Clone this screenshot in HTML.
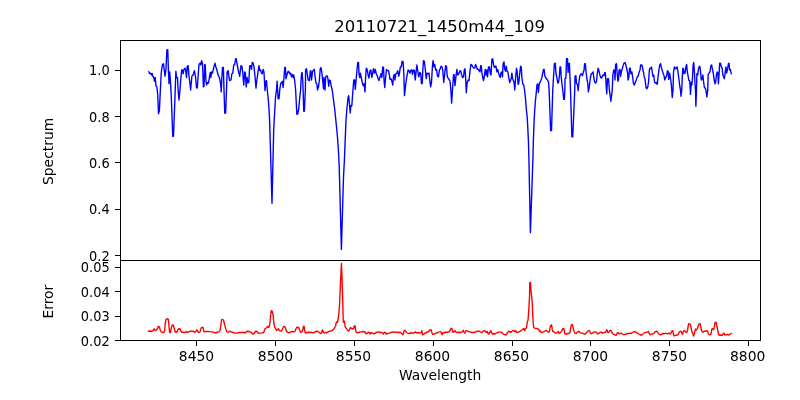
<!DOCTYPE html>
<html><head><meta charset="utf-8"><title>20110721_1450m44_109</title>
<style>html,body{margin:0;padding:0;background:#fff;overflow:hidden;width:800px;height:400px;}svg{display:block;will-change:transform;}text{font-family:"DejaVu Sans","Liberation Sans",sans-serif;fill:#000;}</style></head><body>
<svg width="800" height="400" viewBox="0 0 800 400">
<rect x="0" y="0" width="800" height="400" fill="#fff"/>
<clipPath id="c1"><rect x="120" y="40" width="641" height="221"/></clipPath>
<clipPath id="c2"><rect x="120" y="260" width="641" height="81"/></clipPath>
<path clip-path="url(#c1)" d="M148.75,71.88 L149.75,73.75 L150.62,73.12 L151.50,75.00 L152.12,73.50 L152.88,76.25 L153.75,77.50 L154.38,81.25 L155.25,77.50 L156.00,86.25 L156.88,86.88 L157.75,95.00 L158.50,113.75 L159.38,110.62 L160.25,92.50 L161.25,72.50 L162.50,64.38 L163.50,63.75 L165.00,76.25 L165.88,70.00 L166.88,50.00 L167.75,49.75 L168.50,72.50 L169.00,83.75 L169.75,71.88 L170.62,83.75 L171.25,96.25 L172.75,136.25 L173.50,136.25 L175.00,96.25 L175.88,71.25 L176.50,77.50 L177.50,77.50 L178.12,90.00 L179.00,100.00 L180.00,90.00 L180.62,81.25 L181.62,70.00 L182.50,70.00 L183.12,73.75 L184.00,69.38 L185.00,68.12 L185.62,70.00 L186.50,77.50 L187.25,66.25 L188.12,65.62 L189.00,76.25 L190.00,83.75 L190.62,90.00 L191.88,76.25 L193.12,75.00 L194.38,70.62 L195.62,77.50 L196.50,87.50 L197.25,88.12 L198.12,76.25 L199.00,64.38 L200.00,63.12 L200.88,65.00 L201.62,60.62 L202.50,63.12 L203.38,86.88 L204.00,86.25 L204.75,64.38 L205.25,65.00 L205.88,80.00 L206.62,85.00 L207.50,82.50 L208.50,83.12 L209.38,77.50 L210.25,72.50 L210.88,77.50 L211.62,71.88 L212.50,73.12 L213.75,67.50 L215.00,63.12 L215.88,66.88 L216.88,70.00 L218.12,75.00 L219.38,77.50 L220.62,83.75 L221.25,91.88 L221.88,77.50 L222.50,67.50 L223.38,67.50 L224.00,90.00 L224.75,113.12 L225.62,113.12 L226.50,90.00 L227.12,71.88 L228.12,70.62 L229.00,77.50 L229.75,80.62 L231.00,80.00 L231.88,73.75 L232.75,73.12 L233.75,65.00 L234.75,64.38 L235.62,58.75 L236.25,58.75 L237.25,65.00 L238.75,72.50 L239.75,76.25 L240.00,73.75 L241.00,65.62 L241.88,66.25 L242.75,72.50 L243.75,85.00 L244.75,71.88 L245.38,73.12 L246.25,86.88 L247.12,77.50 L247.75,82.50 L248.75,82.50 L249.75,65.62 L250.62,65.62 L251.50,69.38 L252.25,62.50 L253.12,63.12 L254.00,66.88 L255.00,76.25 L256.00,88.12 L256.88,80.00 L258.12,71.25 L259.00,65.62 L259.75,70.62 L260.62,70.00 L261.50,73.12 L262.25,73.75 L263.25,69.38 L264.00,72.50 L265.00,90.62 L265.88,81.25 L266.50,80.62 L267.25,90.00 L268.10,97.50 L269.00,108.75 L269.60,120.00 L269.90,130.00 L272.00,203.30 L273.70,130.00 L274.20,120.00 L274.80,110.00 L275.60,96.25 L276.50,90.00 L277.12,81.25 L277.62,90.00 L278.12,98.75 L279.00,98.75 L279.75,90.00 L280.62,83.75 L281.50,82.50 L282.25,81.25 L283.12,87.50 L284.00,77.50 L284.75,67.50 L285.38,67.50 L286.00,78.75 L286.88,75.00 L288.12,71.25 L289.00,71.88 L289.75,73.75 L290.62,73.12 L291.50,76.88 L292.25,74.38 L293.12,77.50 L293.75,75.00 L294.62,80.00 L295.62,90.00 L296.88,114.38 L297.75,113.75 L298.75,108.75 L299.75,97.50 L300.62,90.00 L301.00,81.25 L301.62,73.12 L302.12,72.50 L302.75,81.25 L303.12,90.00 L303.75,111.25 L304.38,111.25 L305.00,97.50 L305.38,90.00 L305.62,70.00 L306.50,68.75 L307.25,73.75 L308.12,80.00 L309.38,80.62 L310.25,71.25 L310.88,70.62 L311.50,80.00 L312.50,71.88 L313.50,70.00 L314.38,69.38 L315.00,76.25 L316.00,83.12 L316.88,83.75 L317.50,90.00 L318.50,86.88 L319.38,80.00 L320.25,68.75 L321.00,67.50 L321.88,72.50 L322.75,81.25 L323.50,88.75 L324.00,77.50 L325.00,90.00 L325.62,77.50 L326.25,76.25 L326.88,75.62 L327.75,77.50 L328.75,86.25 L329.38,80.00 L330.25,80.62 L331.25,86.25 L332.25,90.00 L333.30,98.50 L334.70,109.00 L335.60,118.00 L336.60,128.00 L337.60,138.50 L338.50,152.00 L339.20,166.00 L339.50,177.00 L341.40,249.40 L343.50,177.00 L344.40,160.00 L345.20,140.00 L346.00,120.00 L347.00,108.00 L348.00,98.00 L348.70,95.60 L349.30,102.00 L350.20,113.00 L350.90,105.50 L351.80,106.00 L352.80,92.00 L353.75,80.00 L354.62,80.00 L355.25,89.38 L356.00,81.25 L356.88,71.25 L357.75,62.50 L358.50,62.50 L359.00,73.75 L359.75,77.50 L360.38,73.12 L361.25,77.50 L362.25,82.50 L363.12,85.62 L364.00,83.75 L365.00,91.88 L365.62,77.50 L366.25,68.12 L367.12,69.38 L368.12,75.00 L369.00,78.12 L370.00,70.62 L370.88,70.00 L371.88,77.50 L372.75,72.50 L373.50,68.75 L374.38,73.12 L375.25,69.38 L376.25,73.75 L377.25,75.62 L378.12,78.75 L379.00,80.62 L380.00,76.88 L381.00,73.75 L381.88,77.50 L382.75,66.88 L383.50,67.50 L384.12,81.25 L384.75,87.50 L385.62,77.50 L386.50,69.38 L387.50,70.62 L388.50,70.62 L389.38,75.00 L390.00,79.38 L391.00,78.75 L391.88,81.25 L392.75,85.00 L393.50,76.25 L394.38,74.38 L395.00,80.00 L395.88,73.75 L396.88,73.12 L397.75,70.62 L398.75,76.25 L399.38,73.75 L400.38,66.88 L401.25,66.88 L402.12,61.25 L403.12,61.88 L403.75,72.50 L404.50,95.62 L405.62,85.00 L406.88,76.25 L408.12,70.00 L409.00,70.62 L410.00,73.12 L411.00,70.00 L411.88,70.00 L412.50,74.38 L413.50,70.00 L414.38,70.62 L415.25,80.00 L416.25,70.00 L416.88,65.00 L417.75,71.25 L418.75,76.88 L419.75,72.50 L420.62,73.12 L421.50,83.75 L422.25,83.12 L422.75,71.25 L423.50,60.62 L424.38,61.25 L425.25,68.75 L426.25,78.75 L427.12,73.12 L428.12,73.75 L429.00,73.12 L429.75,80.00 L430.62,86.88 L431.50,82.50 L432.50,65.00 L433.12,60.62 L434.00,66.88 L434.75,64.38 L435.62,70.00 L436.50,69.38 L437.50,76.25 L438.50,76.88 L439.38,70.00 L440.00,69.38 L441.00,66.25 L441.88,66.88 L442.75,70.00 L443.75,82.50 L444.75,73.75 L445.62,65.62 L446.50,66.25 L447.25,76.25 L448.12,78.12 L449.00,79.38 L450.00,81.25 L450.88,90.00 L451.62,103.12 L452.50,90.00 L453.50,75.00 L454.12,74.38 L455.00,85.62 L456.00,76.25 L456.88,69.38 L457.75,75.00 L458.75,73.75 L459.75,71.25 L460.62,70.62 L461.50,74.38 L462.50,77.50 L463.50,76.88 L464.38,69.38 L465.00,68.75 L465.62,77.50 L466.25,92.75 L467.25,82.50 L468.12,80.00 L469.00,80.62 L470.00,71.25 L470.88,64.38 L471.88,65.00 L472.75,66.88 L473.75,68.12 L474.75,68.12 L475.62,64.38 L476.50,66.88 L477.50,69.38 L478.50,69.38 L479.38,71.25 L480.00,71.88 L480.62,65.62 L481.25,65.62 L481.88,72.50 L482.75,77.50 L483.50,80.62 L484.38,76.25 L485.25,69.38 L486.00,75.00 L486.88,70.00 L487.50,76.88 L488.50,66.88 L489.38,66.88 L490.25,73.12 L491.00,75.00 L491.88,59.38 L492.75,58.75 L493.50,64.38 L494.38,67.50 L495.25,66.25 L496.00,66.25 L496.88,71.88 L497.75,69.38 L498.50,73.12 L499.38,75.62 L500.25,77.50 L501.00,72.50 L501.88,71.88 L502.50,76.88 L503.12,63.75 L504.00,61.88 L504.75,69.38 L505.62,71.25 L506.25,66.25 L507.12,71.25 L507.88,71.88 L508.75,77.50 L509.75,82.50 L510.62,80.00 L511.25,78.75 L511.88,73.12 L512.50,78.12 L513.12,80.00 L514.00,81.88 L514.75,90.00 L515.62,77.50 L516.50,68.12 L517.25,72.50 L518.12,84.38 L518.75,83.12 L519.75,73.12 L520.62,66.25 L521.25,66.88 L521.88,77.50 L522.75,83.75 L523.75,85.00 L524.70,91.00 L525.60,100.00 L526.40,110.00 L527.20,117.00 L527.90,130.00 L528.50,143.00 L528.90,159.00 L530.40,232.50 L532.90,159.00 L533.40,140.00 L534.00,124.00 L534.60,112.00 L535.50,100.00 L536.40,91.50 L537.00,84.50 L537.60,84.00 L538.40,92.50 L539.30,83.00 L540.00,82.50 L541.00,80.00 L541.88,77.50 L542.75,73.12 L543.50,69.38 L544.12,69.38 L544.75,75.62 L545.62,77.50 L546.50,78.75 L547.50,80.00 L548.50,81.88 L549.12,90.00 L550.62,130.62 L551.50,130.62 L552.75,90.00 L553.50,77.50 L554.38,63.75 L555.25,63.12 L556.00,73.75 L556.88,77.50 L557.75,83.12 L558.50,82.50 L559.38,76.25 L560.00,66.88 L560.62,66.88 L561.25,77.50 L562.25,86.25 L562.75,90.00 L563.75,99.38 L564.38,99.38 L564.88,90.00 L565.00,78.75 L565.88,78.12 L566.50,58.75 L567.50,58.75 L568.12,72.50 L568.75,63.75 L569.38,63.12 L570.00,77.50 L570.50,90.00 L571.88,136.88 L572.75,136.88 L574.75,90.00 L575.00,76.25 L575.88,75.62 L576.50,83.75 L577.50,84.38 L578.12,90.62 L578.75,83.75 L579.75,76.25 L580.62,74.38 L581.50,73.75 L582.50,75.62 L583.38,71.88 L584.00,70.62 L584.62,63.75 L585.38,63.75 L586.00,71.25 L586.88,78.75 L587.75,83.12 L588.38,91.88 L589.38,86.25 L590.25,78.75 L591.25,73.75 L592.25,73.12 L593.12,71.88 L593.75,77.50 L594.62,81.88 L595.62,83.12 L596.50,81.25 L597.25,73.75 L598.12,68.12 L598.75,70.00 L599.75,74.38 L600.62,77.50 L601.50,78.12 L602.25,76.25 L603.12,75.00 L604.00,75.62 L604.75,72.50 L605.38,73.12 L605.88,81.25 L606.75,93.75 L607.50,78.75 L608.50,78.75 L609.38,90.00 L610.88,101.25 L612.25,90.00 L612.88,75.00 L613.75,70.00 L614.62,70.62 L615.00,80.00 L615.62,64.38 L616.50,63.75 L617.12,72.50 L617.88,81.25 L618.50,80.00 L619.12,70.00 L620.00,69.38 L620.62,76.25 L621.25,72.50 L622.12,69.38 L623.12,65.62 L624.00,63.12 L625.00,62.50 L625.88,65.00 L626.88,69.38 L627.50,72.50 L628.12,80.00 L628.75,77.50 L629.62,68.12 L630.25,68.12 L630.88,73.75 L631.88,71.88 L632.50,76.25 L633.50,83.75 L634.38,85.00 L635.25,82.50 L636.25,80.00 L637.25,76.88 L638.12,76.25 L639.00,72.50 L640.00,70.00 L640.62,65.00 L641.88,65.00 L642.75,68.75 L643.50,72.50 L644.38,77.50 L645.00,78.75 L646.00,87.50 L646.88,88.75 L647.75,86.88 L648.50,82.50 L649.38,70.00 L650.00,68.12 L650.88,68.75 L651.50,66.88 L652.12,71.25 L652.88,76.25 L653.75,75.00 L654.62,82.50 L655.62,83.12 L656.50,82.50 L657.25,84.38 L658.12,76.25 L659.00,69.38 L660.00,64.38 L660.62,63.75 L661.25,66.88 L662.25,70.62 L663.12,73.12 L664.00,75.62 L664.75,80.00 L665.62,77.50 L666.50,76.25 L667.50,70.62 L668.12,71.25 L668.75,79.38 L669.62,73.12 L670.38,77.50 L671.25,83.75 L671.75,90.00 L672.25,97.50 L673.00,90.00 L673.50,72.50 L674.38,66.88 L675.25,68.75 L676.25,68.12 L677.12,66.88 L677.88,71.25 L678.75,77.50 L679.75,86.25 L680.50,90.00 L681.00,96.25 L681.75,90.00 L682.25,77.50 L682.88,68.12 L683.50,68.75 L684.12,73.75 L685.00,73.12 L685.88,66.88 L686.62,64.38 L687.25,71.25 L688.12,76.25 L688.75,80.00 L689.75,81.25 L690.50,94.38 L691.25,82.50 L691.88,85.00 L692.50,77.50 L693.12,65.00 L693.75,62.50 L694.38,71.25 L695.00,83.75 L695.50,90.00 L695.88,106.25 L696.50,90.00 L696.88,73.75 L697.75,75.00 L698.50,68.75 L699.38,66.25 L700.00,66.88 L700.62,72.50 L701.25,80.00 L702.12,78.75 L702.88,75.00 L703.50,81.25 L704.38,87.50 L705.25,88.12 L705.88,90.00 L706.88,96.88 L707.75,90.00 L708.12,75.00 L709.00,73.12 L710.00,71.88 L710.88,65.62 L711.62,65.00 L712.50,69.38 L713.38,73.75 L714.00,78.75 L715.00,83.75 L715.62,82.50 L716.50,74.38 L717.25,71.88 L717.88,73.12 L718.38,83.75 L719.00,75.00 L719.75,63.12 L720.38,63.12 L721.25,66.25 L722.12,68.12 L722.88,75.00 L723.75,77.50 L724.38,78.75 L725.00,73.75 L725.88,66.88 L726.62,73.12 L727.50,69.38 L728.38,63.75 L729.00,63.12 L729.62,70.00 L730.38,69.38 L731.25,73.75" fill="none" stroke="#0000ff" stroke-width="1.39" stroke-linejoin="round" stroke-linecap="square"/>
<path clip-path="url(#c2)" d="M148.50,331.25 L149.75,331.00 L151.00,331.50 L152.25,331.00 L153.12,330.62 L154.00,328.75 L154.75,330.00 L155.62,330.62 L156.50,330.00 L157.50,328.50 L158.38,326.25 L159.38,326.88 L160.25,330.00 L161.25,331.88 L162.50,332.50 L163.75,332.50 L164.62,330.62 L165.38,322.50 L166.00,319.38 L167.50,318.75 L168.38,319.38 L169.00,326.25 L169.62,332.50 L170.38,332.50 L171.25,328.12 L172.25,325.00 L173.25,325.00 L174.00,327.50 L175.00,331.25 L176.00,332.50 L176.88,331.88 L177.88,329.75 L178.75,328.75 L180.00,328.75 L181.00,331.25 L181.88,332.25 L183.12,332.25 L184.38,332.50 L185.25,332.25 L186.25,331.50 L187.25,332.50 L188.12,331.88 L189.38,331.88 L190.25,331.25 L191.50,331.00 L192.50,331.50 L193.50,331.25 L194.50,332.25 L195.62,331.88 L196.50,330.25 L197.25,330.00 L197.88,331.88 L198.75,332.50 L200.00,331.88 L200.88,328.75 L201.50,327.50 L203.12,327.50 L203.75,331.25 L204.38,331.88 L205.62,331.50 L207.50,331.50 L209.38,331.62 L211.25,331.88 L213.12,331.88 L214.38,332.75 L216.25,332.75 L217.50,332.25 L218.75,331.88 L220.00,330.62 L220.88,325.00 L221.50,320.00 L222.25,319.38 L223.50,320.00 L224.38,323.75 L225.25,326.88 L226.00,329.38 L226.88,331.88 L228.12,332.25 L229.38,331.50 L230.25,331.25 L231.25,331.88 L232.50,332.25 L233.75,332.75 L235.25,333.12 L236.88,333.12 L238.12,332.75 L240.00,332.50 L241.88,332.50 L243.75,332.25 L245.25,333.12 L246.50,331.50 L248.12,331.25 L249.75,331.88 L251.25,332.25 L252.50,334.00 L253.75,333.75 L254.75,332.50 L255.62,331.25 L257.25,331.50 L258.50,333.50 L260.00,333.12 L261.88,332.88 L263.75,332.50 L264.62,329.38 L265.62,328.50 L266.88,327.50 L267.75,326.25 L268.50,327.50 L269.38,326.25 L270.00,322.50 L270.62,315.00 L271.25,310.62 L272.25,311.25 L273.12,315.00 L273.75,322.50 L274.62,326.88 L275.62,328.75 L276.62,330.62 L277.50,329.38 L278.50,328.75 L279.38,330.62 L280.62,331.00 L281.88,330.62 L282.75,328.12 L283.75,326.50 L285.00,326.88 L285.88,329.38 L286.88,331.88 L288.12,332.50 L289.38,332.75 L290.62,331.88 L292.25,331.50 L293.75,331.88 L295.00,331.25 L296.00,328.75 L296.88,327.25 L298.75,327.50 L299.62,330.00 L300.62,332.25 L301.88,331.88 L302.88,329.38 L303.50,326.25 L304.25,326.88 L304.75,331.25 L305.38,333.12 L306.88,332.50 L308.75,332.25 L311.25,332.50 L313.75,332.75 L315.00,331.88 L316.50,331.25 L318.12,331.50 L319.38,332.50 L320.62,333.50 L321.50,333.12 L322.25,330.00 L322.88,330.62 L323.50,332.50 L324.75,333.12 L326.25,332.50 L328.12,331.88 L330.00,331.25 L331.88,330.62 L333.50,329.38 L335.60,326.00 L336.40,322.00 L337.40,322.40 L338.00,320.00 L338.80,314.00 L339.60,304.00 L340.40,284.00 L341.45,263.40 L342.20,284.00 L342.80,304.00 L343.20,320.00 L343.60,322.40 L344.40,321.00 L345.20,327.00 L346.38,328.38 L347.50,330.25 L348.50,331.00 L349.38,330.00 L350.25,327.75 L351.25,328.12 L352.25,329.00 L353.50,328.50 L354.38,326.00 L355.00,325.62 L355.62,330.62 L356.50,332.50 L357.75,332.75 L359.38,332.25 L361.25,331.88 L363.12,331.50 L365.00,331.88 L365.88,333.75 L366.88,333.50 L368.12,332.25 L369.38,332.75 L370.25,334.00 L371.25,332.50 L372.50,333.12 L373.75,334.00 L375.00,333.12 L376.50,332.50 L378.12,331.88 L379.75,332.50 L381.25,332.25 L382.50,333.12 L383.50,334.00 L384.38,332.25 L385.25,332.50 L386.25,334.00 L387.50,333.50 L389.38,333.12 L391.00,332.50 L392.50,331.88 L394.38,332.25 L396.25,332.25 L398.12,332.50 L400.00,332.25 L401.50,333.12 L402.88,334.75 L403.75,332.50 L404.38,330.25 L405.25,330.62 L406.25,331.88 L407.50,333.12 L409.38,333.50 L411.25,332.75 L413.12,333.12 L414.75,332.50 L415.62,331.88 L416.88,333.12 L418.50,332.50 L420.00,333.12 L421.25,332.50 L421.88,330.62 L422.50,334.75 L423.50,334.38 L425.00,333.12 L426.88,332.25 L428.75,331.50 L429.75,330.00 L431.00,329.75 L431.88,332.50 L432.75,334.38 L434.38,334.00 L436.25,333.12 L438.12,332.50 L440.00,331.50 L441.25,332.50 L442.25,334.75 L443.12,332.50 L444.38,332.75 L445.62,332.25 L447.50,332.25 L449.00,331.88 L450.25,330.00 L451.25,328.12 L452.12,329.00 L452.88,332.25 L454.00,331.88 L455.00,330.62 L456.00,332.25 L457.50,332.50 L459.38,332.25 L461.25,332.50 L462.50,331.50 L463.25,330.25 L464.12,332.50 L465.00,333.12 L465.88,330.62 L466.88,330.62 L468.12,331.50 L470.00,331.88 L471.88,332.50 L473.75,332.50 L475.62,331.88 L477.50,331.25 L479.38,331.25 L480.62,332.25 L481.50,332.75 L482.75,331.50 L484.00,330.62 L485.25,331.00 L486.25,332.25 L487.25,331.50 L488.12,333.75 L489.00,334.00 L490.00,331.88 L490.75,330.62 L491.50,332.50 L492.50,334.00 L493.75,333.75 L495.00,334.00 L496.25,333.12 L497.50,332.50 L499.38,332.12 L501.25,332.12 L502.50,333.12 L503.75,334.38 L505.00,334.75 L506.50,334.75 L507.50,332.50 L508.75,331.25 L509.75,331.50 L510.62,332.50 L511.50,331.88 L512.50,330.62 L513.75,330.62 L514.75,331.50 L515.62,330.62 L516.50,332.50 L517.50,332.25 L518.75,331.88 L520.00,331.50 L521.25,330.62 L522.50,329.38 L523.75,328.50 L524.75,330.62 L525.62,328.50 L526.50,327.75 L527.25,322.50 L528.12,319.38 L528.75,310.00 L529.50,297.50 L529.80,282.50 L530.50,282.50 L531.00,291.00 L532.25,302.50 L532.75,315.00 L533.25,323.75 L533.75,327.50 L534.75,328.12 L536.25,328.50 L537.50,328.50 L538.75,329.38 L539.62,331.25 L540.00,330.62 L541.00,332.50 L542.25,332.25 L543.50,331.88 L544.75,331.25 L546.00,330.25 L547.25,331.50 L548.50,332.25 L549.38,331.25 L550.00,327.75 L550.88,325.25 L551.62,325.00 L552.25,329.38 L552.88,331.50 L554.00,331.88 L555.25,333.12 L556.50,333.12 L557.50,332.25 L558.38,331.50 L559.12,333.50 L560.00,333.12 L561.00,331.88 L561.88,330.62 L562.75,328.75 L563.75,328.50 L564.38,331.25 L565.00,334.00 L566.25,334.00 L567.75,333.50 L569.00,333.50 L570.00,332.50 L570.62,328.75 L571.25,325.00 L572.25,324.38 L573.12,327.50 L574.00,331.25 L575.00,333.12 L576.00,333.50 L576.88,332.50 L577.75,331.88 L578.75,331.25 L579.75,332.50 L581.00,333.12 L582.50,333.12 L583.75,333.75 L585.00,334.38 L586.00,333.12 L586.88,332.25 L587.75,331.25 L588.75,330.62 L589.62,330.62 L590.38,333.12 L591.25,333.75 L592.50,333.12 L593.50,332.25 L594.75,331.88 L596.00,331.88 L596.88,333.12 L597.88,334.00 L599.00,333.12 L600.25,332.25 L601.50,332.25 L602.50,333.12 L603.75,332.50 L605.00,332.50 L605.88,331.88 L606.50,330.00 L607.25,330.25 L607.75,332.25 L608.75,332.50 L609.62,331.00 L610.38,330.25 L611.25,330.62 L611.88,332.50 L612.75,333.75 L614.00,334.38 L615.00,335.00 L616.25,335.25 L617.25,333.12 L618.12,332.50 L619.00,334.00 L620.00,333.50 L621.25,333.12 L622.50,334.00 L623.75,334.75 L625.00,334.38 L626.25,334.00 L627.50,333.50 L628.75,333.50 L630.00,333.12 L631.25,333.50 L632.50,332.50 L633.75,331.88 L635.00,331.50 L636.25,332.25 L637.50,333.12 L638.75,334.00 L640.00,334.75 L641.25,335.25 L642.50,334.38 L643.75,333.12 L645.00,332.50 L646.25,332.25 L647.50,331.88 L648.50,331.50 L649.38,333.75 L650.25,334.75 L651.50,334.00 L652.75,334.00 L653.75,333.50 L655.00,331.88 L656.25,331.25 L657.25,331.50 L658.12,333.12 L659.38,334.38 L660.62,335.00 L661.88,334.00 L663.12,333.50 L664.38,333.75 L665.62,333.12 L666.88,333.75 L668.12,333.50 L669.38,333.12 L670.38,334.00 L671.25,332.50 L672.12,330.62 L672.88,330.62 L673.50,335.00 L674.38,336.00 L675.62,335.25 L676.88,335.00 L678.12,334.75 L679.00,332.50 L680.00,331.50 L681.00,331.25 L681.88,333.12 L682.50,334.38 L683.50,331.25 L684.38,330.62 L685.25,331.25 L686.00,332.50 L686.88,332.25 L687.50,330.62 L688.12,326.25 L688.75,323.75 L689.75,324.00 L690.62,325.00 L691.25,328.75 L691.88,331.88 L692.75,333.12 L693.50,336.00 L694.38,333.75 L695.00,330.62 L695.62,329.00 L696.50,330.00 L697.25,328.75 L698.12,326.25 L699.00,324.00 L700.00,323.50 L700.62,326.25 L701.25,329.38 L702.12,331.50 L702.88,332.25 L703.75,331.50 L704.75,331.00 L705.62,331.25 L706.50,330.62 L707.50,331.00 L708.12,333.12 L709.00,334.38 L710.00,334.75 L711.00,334.38 L711.62,330.00 L712.25,328.50 L713.12,329.00 L713.75,329.75 L714.38,326.25 L715.00,322.50 L716.00,322.25 L716.62,325.00 L717.50,328.75 L718.12,332.50 L718.75,334.75 L720.00,335.25 L721.25,335.00 L722.25,335.25 L723.12,333.75 L724.00,333.12 L724.75,335.00 L726.00,334.75 L727.25,334.38 L728.12,335.00 L729.38,334.75 L730.25,334.00 L731.25,333.50" fill="none" stroke="#ff0000" stroke-width="1.39" stroke-linejoin="round" stroke-linecap="square"/>
<g stroke="#000" stroke-width="1" fill="none" shape-rendering="crispEdges">
<path d="M120.5,40 V341 M760.5,40 V341 M120,40.5 H761 M120,260.5 H761 M120,340.5 H761"/>
<path d="M196.5,341 V345.5"/>
<path d="M275.5,341 V345.5"/>
<path d="M354.5,341 V345.5"/>
<path d="M433.5,341 V345.5"/>
<path d="M512.5,341 V345.5"/>
<path d="M590.5,341 V345.5"/>
<path d="M669.5,341 V345.5"/>
<path d="M748.5,341 V345.5"/>
<path d="M115,70.5 H120"/>
<path d="M115,116.5 H120"/>
<path d="M115,162.5 H120"/>
<path d="M115,209.5 H120"/>
<path d="M115,255.5 H120"/>
<path d="M115,267.5 H120"/>
<path d="M115,291.5 H120"/>
<path d="M115,316.5 H120"/>
<path d="M115,340.5 H120"/>
</g>
<text x="196.5" y="361.2" font-size="13.89" text-anchor="middle">8450</text>
<text x="275.5" y="361.2" font-size="13.89" text-anchor="middle">8500</text>
<text x="353.5" y="361.2" font-size="13.89" text-anchor="middle">8550</text>
<text x="432.5" y="361.2" font-size="13.89" text-anchor="middle">8600</text>
<text x="511.5" y="361.2" font-size="13.89" text-anchor="middle">8650</text>
<text x="590.5" y="361.2" font-size="13.89" text-anchor="middle">8700</text>
<text x="669.5" y="361.2" font-size="13.89" text-anchor="middle">8750</text>
<text x="747.7" y="361.2" font-size="13.89" text-anchor="middle">8800</text>
<text transform="translate(109.7,74.8) scale(0.935,1)" x="0" y="0" font-size="13.89" text-anchor="end">1.0</text>
<text transform="translate(109.7,121.8) scale(0.935,1)" x="0" y="0" font-size="13.89" text-anchor="end">0.8</text>
<text transform="translate(109.7,167.8) scale(0.935,1)" x="0" y="0" font-size="13.89" text-anchor="end">0.6</text>
<text transform="translate(109.7,213.8) scale(0.935,1)" x="0" y="0" font-size="13.89" text-anchor="end">0.4</text>
<text transform="translate(109.7,260.8) scale(0.935,1)" x="0" y="0" font-size="13.89" text-anchor="end">0.2</text>
<text transform="translate(109.7,271.8) scale(0.935,1)" x="0" y="0" font-size="13.89" text-anchor="end">0.05</text>
<text transform="translate(109.7,296.8) scale(0.935,1)" x="0" y="0" font-size="13.89" text-anchor="end">0.04</text>
<text transform="translate(109.7,320.8) scale(0.935,1)" x="0" y="0" font-size="13.89" text-anchor="end">0.03</text>
<text transform="translate(109.7,345.8) scale(0.935,1)" x="0" y="0" font-size="13.89" text-anchor="end">0.02</text>
<text transform="translate(439.6,31.9) scale(0.989,1)" font-size="16.67" text-anchor="middle">20110721_1450m44_109</text>
<text x="440.2" y="379.8" font-size="13.89" text-anchor="middle">Wavelength</text>
<text transform="translate(53.3,151.4) rotate(-90)" font-size="13.89" text-anchor="middle">Spectrum</text>
<text transform="translate(53.3,301.6) rotate(-90)" font-size="13.89" text-anchor="middle">Error</text>
</svg></body></html>
